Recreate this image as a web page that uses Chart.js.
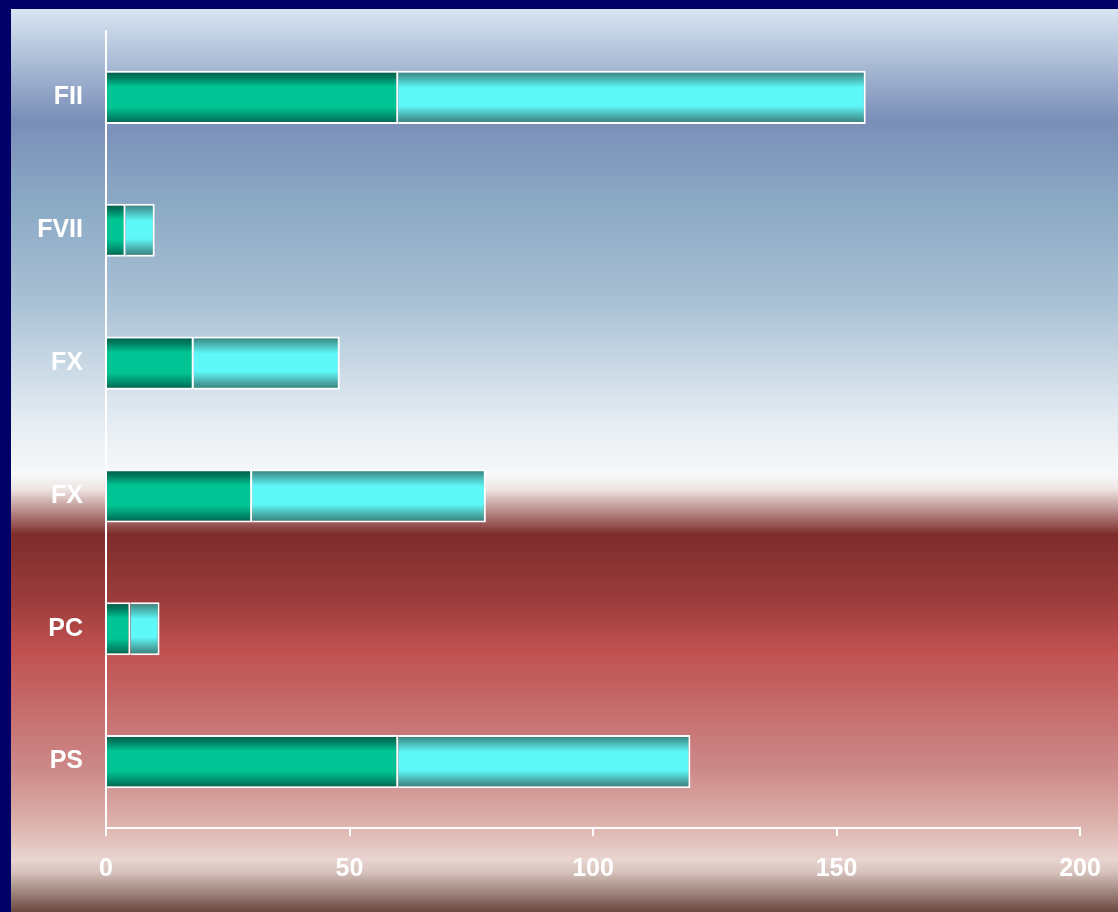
<!DOCTYPE html>
<html>
<head>
<meta charset="utf-8">
<script src="https://cdn.jsdelivr.net/npm/chart.js@4/dist/chart.umd.min.js"></script>
<style>
  html, body { margin: 0; padding: 0; background: #000066; overflow: hidden; }
  #wrap { position: absolute; left: 11px; top: 9px; width: 1107px; height: 903px; }
</style>
</head>
<body>
<div id="wrap"><canvas id="barChart"></canvas></div>
<script>
// data
var categories = ["FII", "FVII", "FX", "FX", "PC", "PS"];
var greenValues = [60, 4, 18, 30, 5, 60];
var cyanValues = [96, 6, 30, 48, 6, 60];
var xTicks = [0, 50, 100, 150, 200];

// background of the whole canvas
var backdrop = {
    id: 'backdrop',
    beforeDraw: function (chart) {
        var c = chart.ctx, h = chart.height, w = chart.width;
        var g = c.createLinearGradient(0, 0, 0, h);
        g.addColorStop(0.000, '#d8e6f2');
        g.addColorStop(0.123, '#7a8eb8');
        g.addColorStop(0.210, '#8aa8c4');
        g.addColorStop(0.322, '#a8c0d4');
        g.addColorStop(0.455, '#e4ecf2');
        g.addColorStop(0.515, '#f6f8fa');
        g.addColorStop(0.532, '#eee4e2');
        g.addColorStop(0.582, '#7e2c2c');
        g.addColorStop(0.654, '#9c3c3c');
        g.addColorStop(0.710, '#c05050');
        g.addColorStop(0.840, '#cc8888');
        g.addColorStop(0.900, '#dcb0aa');
        g.addColorStop(0.942, '#e8d4d0');
        g.addColorStop(0.955, '#d8c4be');
        g.addColorStop(1.000, '#6a4840');
        c.save();
        c.fillStyle = g;
        c.fillRect(0, 0, w, h);
        c.restore();
    }
};

function barGradient(context, stops) {
    var chart = context.chart;
    if (!chart.chartArea || !chart.scales.y) return stops[2][1];
    var y = chart.scales.y;
    var mid = y.getPixelForValue(context.dataIndex);
    var half = (chart.chartArea.bottom - chart.chartArea.top) / categories.length * 0.4 / 2;
    var g = chart.ctx.createLinearGradient(0, mid - half, 0, mid + half);
    stops.forEach(function (s) { g.addColorStop(s[0], s[1]); });
    return g;
}

var greenStops = [[0, '#005a44'], [0.12, '#007a5e'], [0.3, '#00c494'], [0.68, '#00c494'], [0.86, '#008e6e'], [1, '#005e48']];
var cyanStops = [[0, '#357a76'], [0.14, '#48b2ae'], [0.32, '#5ef8f8'], [0.66, '#5ef8f8'], [0.86, '#48aaa6'], [1, '#357a76']];

var ctx = document.getElementById("barChart");
var chart = new Chart(ctx, {
    type: 'bar',
    data: {
        labels: categories,
        datasets: [
            {
                data: greenValues,
                backgroundColor: function (c) { return barGradient(c, greenStops); },
                borderColor: '#ffffff',
                borderWidth: 2
            },
            {
                data: cyanValues,
                backgroundColor: function (c) { return barGradient(c, cyanStops); },
                borderColor: '#ffffff',
                borderWidth: 2
            }
        ]
    },
    plugins: [backdrop],
    options: {
        indexAxis: 'y',
        responsive: true,
        maintainAspectRatio: false,
        animation: false,
        categoryPercentage: 0.8,
        barPercentage: 0.5,
        layout: { padding: { top: 22, right: 38, left: 0, bottom: 0 } },
        plugins: { legend: { display: false }, tooltip: { enabled: false } },
        scales: {
            x: {
                stacked: true,
                min: 0,
                max: 200,
                afterFit: function (s) { s.height = 84; s.paddingLeft = 0; s.paddingRight = 0; },
                afterBuildTicks: function (s) { s.ticks = xTicks.map(function (v) { return { value: v }; }); },
                grid: { display: true, drawOnChartArea: false, drawTicks: true, tickLength: 8, color: '#ffffff', lineWidth: 2 },
                border: { display: true, color: '#ffffff', width: 2 },
                ticks: { color: '#ffffff', padding: 18, font: { family: 'Liberation Sans', size: 25, weight: 'bold' } }
            },
            y: {
                stacked: true,
                afterFit: function (s) { s.width = 95; s.paddingTop = 0; s.paddingBottom = 0; },
                grid: { display: false, drawTicks: false },
                border: { display: true, color: '#ffffff', width: 2 },
                ticks: { color: '#ffffff', padding: 23, font: { family: 'Liberation Sans', size: 25, weight: 'bold' } }
            }
        }
    }
});
</script>
</body>
</html>
